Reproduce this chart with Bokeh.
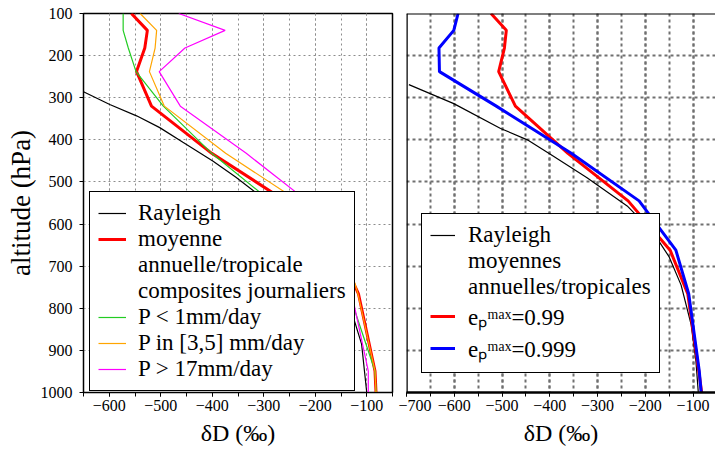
from bokeh.plotting import figure
from bokeh.layouts import row
from bokeh.models import Range1d, SingleIntervalTicker, Legend, LegendItem, Span
from bokeh.embed import file_html
from bokeh.resources import INLINE

# ---------------- data ----------------
# left panel: daily composites
levels_left = [100, 140, 182, 238, 320, 432, 545, 662, 766, 949, 1000]
moyenne = [-557, -526, -531, -547, -518, -401, -258, -155, -116, -84, -82]
p_lt_1 = [-573, -573, -563, -548, -495, -401, -287, -177, -134, -84, -82]
p_3_5 = [-540, -508, -511, -522, -493, -374, -233, -142, -117, -84, -82]
p_gt_17 = [-465, -375, -453, -503, -462, -334, -216, -158, -129, -97, -97]
rayleigh_left_p = [286, 316, 343, 371, 406, 450, 489, 532, 620, 700, 782, 885, 1000]
rayleigh_left = [-650, -599, -547, -502, -457, -399, -354, -308, -225, -172, -136, -110, -100]

# right panel: annual means for two e_p^max
levels_right = [100, 140, 182, 238, 320, 432, 545, 662, 766, 949, 1000]
ep_099 = [-523, -491, -495, -507, -472, -362, -236, -148, -111, -88, -82]
ep_0999 = [-592, -601, -632, -631, -512, -355, -213, -136, -109, -87, -83]
rayleigh_right_p = [269, 314, 373, 400, 435, 490, 557, 619, 678, 745, 839, 925, 1000]
rayleigh_right = [-695, -601, -503, -447, -398, -322, -238, -184, -150, -125, -104, -94, -89]

x_ticks_left = [-600, -500, -400, -300, -200, -100]
x_ticks_right = [-700, -600, -500, -400, -300, -200, -100]

FONT = "'Liberation Serif'"
GREEN = "#22cc22"
ORANGE = "#ffa500"
MAGENTA = "#ff00ff"


def base(p, xticks, grid_color, grid_width, grid_dash):
    xt = SingleIntervalTicker(interval=100, num_minor_ticks=2)
    yt = SingleIntervalTicker(interval=100, num_minor_ticks=0)
    p.xaxis.ticker = xt
    p.yaxis.ticker = yt
    p.xgrid.ticker = xt
    p.ygrid.ticker = yt
    p.xaxis.major_label_overrides = {v: "\u2212" + str(abs(v)) for v in xticks}
    for ax in (p.xaxis[0], p.yaxis[0]):
        ax.major_label_text_font = FONT
        ax.major_label_text_font_size = "16px"
        ax.major_label_text_color = "black"
        ax.axis_label_text_font = FONT
        ax.axis_label_text_font_style = "normal"
        ax.axis_label_text_color = "black"
        ax.axis_line_color = "black"
        ax.major_tick_line_color = "black"
        ax.minor_tick_line_color = "black"
        ax.major_tick_in = 0
        ax.major_tick_out = 4
        ax.minor_tick_in = 0
        ax.minor_tick_out = 4
    p.xaxis.major_label_standoff = 3
    p.xaxis.axis_label_standoff = 6
    p.yaxis.major_label_standoff = 7
    p.yaxis.axis_label_standoff = 2
    for g in (p.xgrid[0], p.ygrid[0]):
        g.grid_line_color = grid_color
        g.grid_line_width = grid_width
        g.grid_line_dash = grid_dash
    p.xgrid.minor_grid_line_color = grid_color
    p.xgrid.minor_grid_line_width = grid_width
    p.xgrid.minor_grid_line_dash = grid_dash
    p.background_fill_color = "white"
    p.border_fill_color = "white"


# ---------------- left panel ----------------
p1 = figure(width=398, height=451, x_range=Range1d(-650, -50), y_range=Range1d(1000, 100),
            output_backend="svg", toolbar_location=None,
            min_border_left=83, min_border_right=6, min_border_top=13, min_border_bottom=59)
base(p1, x_ticks_left, "#8c8c8c", 1, "2 3")
p1.outline_line_color = "black"
p1.outline_line_width = 1.5
p1.outline_line_alpha = 1
p1.xaxis.axis_label = "δD (‰)"
p1.xaxis.axis_label_text_font_size = "24px"
p1.yaxis.axis_label = "altitude (hPa)"
p1.yaxis.axis_label_text_font_size = "27px"

r_ray1 = p1.line(rayleigh_left, rayleigh_left_p, line_color="black", line_width=1.2)
r_moy = p1.line(moyenne, levels_left, line_color="red", line_width=3)
r_g = p1.line(p_lt_1, levels_left, line_color=GREEN, line_width=1.2)
r_o = p1.line(p_3_5, levels_left, line_color=ORANGE, line_width=1.2)
r_m = p1.line(p_gt_17, levels_left, line_color=MAGENTA, line_width=1.2)
d1 = p1.line(x=[], y=[], line_alpha=0)
d2 = p1.line(x=[], y=[], line_alpha=0)

leg1 = Legend(items=[
    LegendItem(label="Rayleigh", renderers=[r_ray1]),
    LegendItem(label="moyenne", renderers=[r_moy]),
    LegendItem(label="annuelle/tropicale", renderers=[d1]),
    LegendItem(label="composites journaliers", renderers=[d2]),
    LegendItem(label="P < 1mm/day", renderers=[r_g]),
    LegendItem(label="P in [3,5] mm/day", renderers=[r_o]),
    LegendItem(label="P > 17mm/day", renderers=[r_m]),
], location=(6, 1))

# ---------------- right panel ----------------
p2 = figure(width=317, height=451, x_range=Range1d(-700, -53), y_range=Range1d(1000, 100),
            output_backend="svg", toolbar_location=None,
            min_border_left=8, min_border_right=0, min_border_top=13, min_border_bottom=59)
base(p2, x_ticks_right, "#707070", 2, "3 3")
p2.outline_line_color = None
p2.xaxis.axis_label = "δD (‰)"
p2.xaxis.axis_label_text_font_size = "24px"
p2.yaxis.visible = False
p2.xaxis.axis_line_width = 2.5
p2.add_layout(Span(location=-700, dimension="height", line_color="black", line_width=2.5))
p2.add_layout(Span(location=100, dimension="width", line_color="black", line_width=2))

r_ray2 = p2.line(rayleigh_right, rayleigh_right_p, line_color="black", line_width=1.2)
r_r = p2.line(ep_099, levels_right, line_color="red", line_width=3)
r_b = p2.line(ep_0999, levels_right, line_color="blue", line_width=3)
d3 = p2.line(x=[], y=[], line_alpha=0)
d4 = p2.line(x=[], y=[], line_alpha=0)

leg2 = Legend(items=[
    LegendItem(label="Rayleigh", renderers=[r_ray2]),
    LegendItem(label="moyennes", renderers=[d3]),
    LegendItem(label="annuelles/tropicales", renderers=[d4]),
    LegendItem(label="e\u209a\u1d50\u1d43\u02e3=0.99", renderers=[r_r]),
    LegendItem(label="e\u209a\u1d50\u1d43\u02e3=0.999", renderers=[r_b]),
], location=(15, 19))

for leg, gw, st, pad, sp in ((leg1, 28, 12, 8, 0), (leg2, 25, 13, 8, 0)):
    leg.label_text_font = FONT
    leg.label_text_font_size = "23px"
    leg.label_text_color = "black"
    leg.glyph_width = gw
    leg.glyph_height = 20
    leg.label_standoff = st
    leg.padding = pad
    leg.spacing = sp
    leg.margin = 0
    leg.border_line_color = "black"
    leg.border_line_width = 1.2
    leg.border_line_alpha = 1
    leg.background_fill_color = "white"
    leg.background_fill_alpha = 1

p1.add_layout(leg1, "center")
p2.add_layout(leg2, "center")

layout = row(p1, p2)
open("out.html", "w").write(file_html(layout, INLINE))
